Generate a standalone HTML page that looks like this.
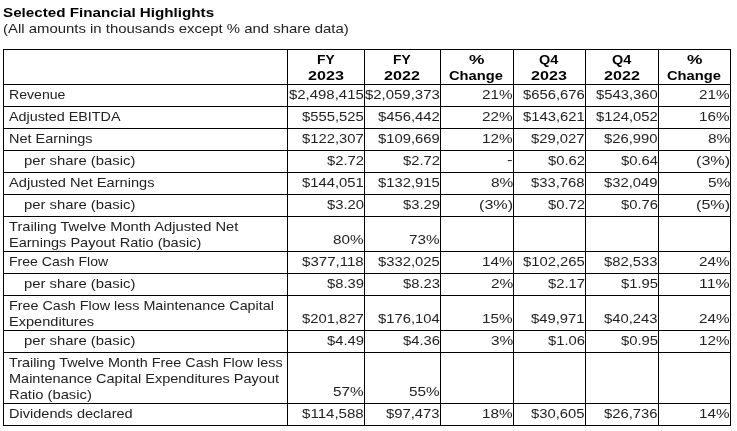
<!DOCTYPE html>
<html><head><meta charset="utf-8"><style>
html,body{margin:0;padding:0;background:#fff;width:737px;height:431px;overflow:hidden;position:relative}
.t{position:absolute;white-space:pre;font-family:"Liberation Sans",sans-serif;font-size:13px;line-height:16px;color:#222;transform-origin:0 0;-webkit-font-smoothing:antialiased;will-change:transform}
.b{font-weight:bold;color:#000}
.h{position:absolute;left:3px;width:728px;height:1px;background:#000}
.v{position:absolute;top:49px;width:1px;height:377px;background:#000}
</style></head><body>
<div class="t b" style="left:2.60px;top:5px;transform:scaleX(1.1691)">Selected Financial Highlights</div>
<div class="t" style="left:3.20px;top:21px;transform:scaleX(1.1472)">(All amounts in thousands except % and share data)</div>
<div class="h" style="top:49px"></div>
<div class="h" style="top:84px"></div>
<div class="h" style="top:106px"></div>
<div class="h" style="top:128px"></div>
<div class="h" style="top:150px"></div>
<div class="h" style="top:172px"></div>
<div class="h" style="top:194px"></div>
<div class="h" style="top:216px"></div>
<div class="h" style="top:251px"></div>
<div class="h" style="top:273px"></div>
<div class="h" style="top:295px"></div>
<div class="h" style="top:330px"></div>
<div class="h" style="top:352px"></div>
<div class="h" style="top:403px"></div>
<div class="h" style="top:425px"></div>
<div class="v" style="left:3px"></div>
<div class="v" style="left:287px"></div>
<div class="v" style="left:364px"></div>
<div class="v" style="left:440px"></div>
<div class="v" style="left:513px"></div>
<div class="v" style="left:585px"></div>
<div class="v" style="left:658px"></div>
<div class="v" style="left:730px"></div>
<div class="t b" style="left:316.60px;top:52px;transform:scaleX(1.0588)">FY</div>
<div class="t b" style="left:307.60px;top:68px;transform:scaleX(1.2414)">2023</div>
<div class="t b" style="left:393.10px;top:52px;transform:scaleX(1.0588)">FY</div>
<div class="t b" style="left:384.10px;top:68px;transform:scaleX(1.2414)">2022</div>
<div class="t b" style="left:469.20px;top:52px;transform:scaleX(1.3333)">%</div>
<div class="t b" style="left:449.45px;top:68px;transform:scaleX(1.1312)">Change</div>
<div class="t b" style="left:539.10px;top:52px;transform:scaleX(1.1111)">Q4</div>
<div class="t b" style="left:531.10px;top:68px;transform:scaleX(1.2414)">2023</div>
<div class="t b" style="left:611.60px;top:52px;transform:scaleX(1.1111)">Q4</div>
<div class="t b" style="left:603.60px;top:68px;transform:scaleX(1.2414)">2022</div>
<div class="t b" style="left:686.70px;top:52px;transform:scaleX(1.3333)">%</div>
<div class="t b" style="left:666.95px;top:68px;transform:scaleX(1.1312)">Change</div>
<div class="t" style="left:8.70px;top:87px;transform:scaleX(1.0838)">Revenue</div>
<div class="t" style="left:289.23px;top:87px;transform:scaleX(1.1487)">$2,498,415</div>
<div class="t" style="left:365.23px;top:87px;transform:scaleX(1.1487)">$2,059,373</div>
<div class="t" style="left:482.42px;top:87px;transform:scaleX(1.1746)">21%</div>
<div class="t" style="left:523.22px;top:87px;transform:scaleX(1.1388)">$656,676</div>
<div class="t" style="left:596.22px;top:87px;transform:scaleX(1.1388)">$543,360</div>
<div class="t" style="left:699.42px;top:87px;transform:scaleX(1.1746)">21%</div>
<div class="t" style="left:8.70px;top:109px;transform:scaleX(1.1023)">Adjusted EBITDA</div>
<div class="t" style="left:302.22px;top:109px;transform:scaleX(1.1388)">$555,525</div>
<div class="t" style="left:378.22px;top:109px;transform:scaleX(1.1388)">$456,442</div>
<div class="t" style="left:482.42px;top:109px;transform:scaleX(1.1746)">22%</div>
<div class="t" style="left:523.22px;top:109px;transform:scaleX(1.1388)">$143,621</div>
<div class="t" style="left:596.22px;top:109px;transform:scaleX(1.1388)">$124,052</div>
<div class="t" style="left:699.42px;top:109px;transform:scaleX(1.1746)">16%</div>
<div class="t" style="left:8.70px;top:131px;transform:scaleX(1.1123)">Net Earnings</div>
<div class="t" style="left:302.22px;top:131px;transform:scaleX(1.1388)">$122,307</div>
<div class="t" style="left:378.22px;top:131px;transform:scaleX(1.1388)">$109,669</div>
<div class="t" style="left:482.42px;top:131px;transform:scaleX(1.1746)">12%</div>
<div class="t" style="left:531.49px;top:131px;transform:scaleX(1.1382)">$29,027</div>
<div class="t" style="left:604.49px;top:131px;transform:scaleX(1.1382)">$26,990</div>
<div class="t" style="left:707.69px;top:131px;transform:scaleX(1.1870)">8%</div>
<div class="t" style="left:23.60px;top:153px;transform:scaleX(1.1422)">per share (basic)</div>
<div class="t" style="left:327.01px;top:153px;transform:scaleX(1.1364)">$2.72</div>
<div class="t" style="left:403.01px;top:153px;transform:scaleX(1.1364)">$2.72</div>
<div class="t" style="left:507.39px;top:152px;transform:scaleX(1.2964)">-</div>
<div class="t" style="left:548.01px;top:153px;transform:scaleX(1.1364)">$0.62</div>
<div class="t" style="left:621.01px;top:153px;transform:scaleX(1.1364)">$0.64</div>
<div class="t" style="left:695.88px;top:153px;transform:scaleX(1.2428)">(3%)</div>
<div class="t" style="left:8.70px;top:175px;transform:scaleX(1.1253)">Adjusted Net Earnings</div>
<div class="t" style="left:302.22px;top:175px;transform:scaleX(1.1388)">$144,051</div>
<div class="t" style="left:378.22px;top:175px;transform:scaleX(1.1388)">$132,915</div>
<div class="t" style="left:490.69px;top:175px;transform:scaleX(1.1870)">8%</div>
<div class="t" style="left:531.49px;top:175px;transform:scaleX(1.1382)">$33,768</div>
<div class="t" style="left:604.49px;top:175px;transform:scaleX(1.1382)">$32,049</div>
<div class="t" style="left:707.69px;top:175px;transform:scaleX(1.1870)">5%</div>
<div class="t" style="left:23.60px;top:197px;transform:scaleX(1.1422)">per share (basic)</div>
<div class="t" style="left:327.01px;top:197px;transform:scaleX(1.1364)">$3.20</div>
<div class="t" style="left:403.01px;top:197px;transform:scaleX(1.1364)">$3.29</div>
<div class="t" style="left:478.88px;top:197px;transform:scaleX(1.2428)">(3%)</div>
<div class="t" style="left:548.01px;top:197px;transform:scaleX(1.1364)">$0.72</div>
<div class="t" style="left:621.01px;top:197px;transform:scaleX(1.1364)">$0.76</div>
<div class="t" style="left:695.88px;top:197px;transform:scaleX(1.2428)">(5%)</div>
<div class="t" style="left:8.70px;top:219px;transform:scaleX(1.1296)">Trailing Twelve Month Adjusted Net</div>
<div class="t" style="left:8.70px;top:235px;transform:scaleX(1.1179)">Earnings Payout Ratio (basic)</div>
<div class="t" style="left:333.42px;top:232px;transform:scaleX(1.1746)">80%</div>
<div class="t" style="left:409.42px;top:232px;transform:scaleX(1.1746)">73%</div>
<div class="t" style="left:8.70px;top:254px;transform:scaleX(1.0800)">Free Cash Flow</div>
<div class="t" style="left:302.22px;top:254px;transform:scaleX(1.1595)">$377,118</div>
<div class="t" style="left:378.22px;top:254px;transform:scaleX(1.1388)">$332,025</div>
<div class="t" style="left:482.42px;top:254px;transform:scaleX(1.1746)">14%</div>
<div class="t" style="left:523.22px;top:254px;transform:scaleX(1.1388)">$102,265</div>
<div class="t" style="left:604.49px;top:254px;transform:scaleX(1.1382)">$82,533</div>
<div class="t" style="left:699.42px;top:254px;transform:scaleX(1.1746)">24%</div>
<div class="t" style="left:23.60px;top:276px;transform:scaleX(1.1422)">per share (basic)</div>
<div class="t" style="left:327.01px;top:276px;transform:scaleX(1.1364)">$8.39</div>
<div class="t" style="left:403.01px;top:276px;transform:scaleX(1.1364)">$8.23</div>
<div class="t" style="left:490.69px;top:276px;transform:scaleX(1.1870)">2%</div>
<div class="t" style="left:548.01px;top:276px;transform:scaleX(1.1364)">$2.17</div>
<div class="t" style="left:621.01px;top:276px;transform:scaleX(1.1364)">$1.95</div>
<div class="t" style="left:699.42px;top:276px;transform:scaleX(1.2200)">11%</div>
<div class="t" style="left:8.70px;top:298px;transform:scaleX(1.1007)">Free Cash Flow less Maintenance Capital</div>
<div class="t" style="left:8.70px;top:314px;transform:scaleX(1.1205)">Expenditures</div>
<div class="t" style="left:302.22px;top:311px;transform:scaleX(1.1388)">$201,827</div>
<div class="t" style="left:378.22px;top:311px;transform:scaleX(1.1388)">$176,104</div>
<div class="t" style="left:482.42px;top:311px;transform:scaleX(1.1746)">15%</div>
<div class="t" style="left:531.49px;top:311px;transform:scaleX(1.1382)">$49,971</div>
<div class="t" style="left:604.49px;top:311px;transform:scaleX(1.1382)">$40,243</div>
<div class="t" style="left:699.42px;top:311px;transform:scaleX(1.1746)">24%</div>
<div class="t" style="left:23.60px;top:333px;transform:scaleX(1.1422)">per share (basic)</div>
<div class="t" style="left:327.01px;top:333px;transform:scaleX(1.1364)">$4.49</div>
<div class="t" style="left:403.01px;top:333px;transform:scaleX(1.1364)">$4.36</div>
<div class="t" style="left:490.69px;top:333px;transform:scaleX(1.1870)">3%</div>
<div class="t" style="left:548.01px;top:333px;transform:scaleX(1.1364)">$1.06</div>
<div class="t" style="left:621.01px;top:333px;transform:scaleX(1.1364)">$0.95</div>
<div class="t" style="left:699.42px;top:333px;transform:scaleX(1.1746)">12%</div>
<div class="t" style="left:8.70px;top:355px;transform:scaleX(1.1041)">Trailing Twelve Month Free Cash Flow less</div>
<div class="t" style="left:8.70px;top:371px;transform:scaleX(1.1153)">Maintenance Capital Expenditures Payout</div>
<div class="t" style="left:8.70px;top:387px;transform:scaleX(1.1347)">Ratio (basic)</div>
<div class="t" style="left:333.42px;top:384px;transform:scaleX(1.1746)">57%</div>
<div class="t" style="left:409.42px;top:384px;transform:scaleX(1.1746)">55%</div>
<div class="t" style="left:8.70px;top:406px;transform:scaleX(1.1186)">Dividends declared</div>
<div class="t" style="left:302.22px;top:406px;transform:scaleX(1.1595)">$114,588</div>
<div class="t" style="left:386.49px;top:406px;transform:scaleX(1.1382)">$97,473</div>
<div class="t" style="left:482.42px;top:406px;transform:scaleX(1.1746)">18%</div>
<div class="t" style="left:531.49px;top:406px;transform:scaleX(1.1382)">$30,605</div>
<div class="t" style="left:604.49px;top:406px;transform:scaleX(1.1382)">$26,736</div>
<div class="t" style="left:699.42px;top:406px;transform:scaleX(1.1746)">14%</div>
</body></html>
